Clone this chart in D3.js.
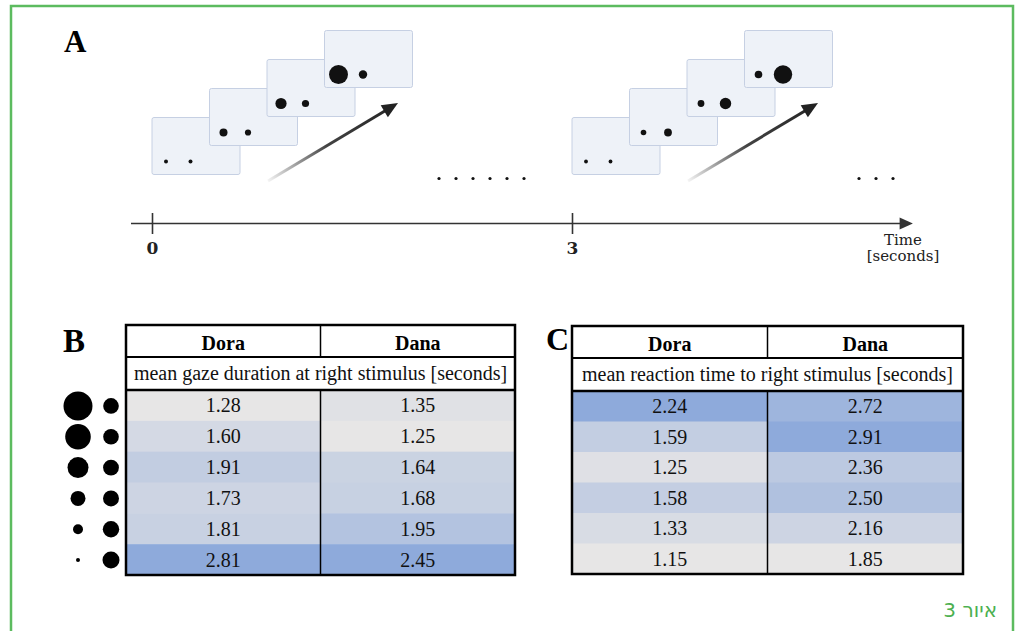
<!DOCTYPE html>
<html>
<head>
<meta charset="utf-8">
<script src="https://cdn.jsdelivr.net/npm/d3@7"></script>
<style>
  body { margin: 0; background: #fff; }
</style>
</head>
<body>
<div id="fig"></div>
<script>
// panel A: two trials laid on a time line
var trialStarts = [0, 3];
var leftRadius = [[2, 4, 5.6, 9.5], [1.9, 2.8, 3.4, 3.8]];
var rightRadius = [[2, 3.1, 3.6, 4.2], [1.9, 3.9, 5.7, 9.2]];
var timeTicks = [0, 3];
var ellipsis = [{ start: 2.05, count: 6 }, { start: 5.05, count: 3 }];

// panels B and C
var subjects = ["Dora", "Dana"];
var gazeDora = [1.28, 1.60, 1.91, 1.73, 1.81, 2.81];
var gazeDana = [1.35, 1.25, 1.64, 1.68, 1.95, 2.45];
var reactDora = [2.24, 1.59, 1.25, 1.58, 1.33, 1.15];
var reactDana = [2.72, 2.91, 2.36, 2.50, 2.16, 1.85];
var leftDot = [14.5, 12.8, 10.5, 7.5, 5, 2];
var rightDot = [7.8, 7.8, 7.9, 8, 8.2, 8.5];

var W = 1018, H = 631;
var serif = "'Liberation Serif', 'Times New Roman', serif";
var slab = "'DejaVu Serif', serif";

var svg = d3.select("#fig").append("svg")
  .attr("width", W)
  .attr("height", H);

// green frame, bottom edge falls outside the picture
svg.append("rect")
  .attr("x", 11).attr("y", 6)
  .attr("width", 1002).attr("height", 700)
  .attr("fill", "none")
  .attr("stroke", "#5cbb5f")
  .attr("stroke-width", 2.5);

// ---------- panel A ----------
var x = d3.scaleLinear().domain([0, 3]).range([152, 572]);
var frameX = d3.scaleLinear().domain([0, 3]).range([0, 172.5]);
var frameY = d3.scaleLinear().domain([0, 3]).range([117.5, 30.5]);
var cardW = 88, cardH = 57;

var defs = svg.append("defs");

trialStarts.forEach(function (t0, k) {
  var g = svg.append("g");
  var x0 = x(t0);
  var cards = g.selectAll("g.card")
    .data(d3.range(4))
    .enter().append("g")
    .attr("transform", function (i) { return "translate(" + (x0 + frameX(i)) + "," + frameY(i) + ")"; });
  cards.append("rect")
    .attr("width", cardW).attr("height", cardH)
    .attr("rx", 2)
    .attr("fill", "#eef2f8")
    .attr("stroke", "#c6d0e3")
    .attr("stroke-width", 1);
  cards.append("circle")
    .attr("cx", 14).attr("cy", 44)
    .attr("r", function (i) { return leftRadius[k][i]; })
    .attr("fill", "#111");
  cards.append("circle")
    .attr("cx", 38.5).attr("cy", 44)
    .attr("r", function (i) { return rightRadius[k][i]; })
    .attr("fill", "#111");

  // arrow with fading tail
  var ax0 = x0 + 116, ay0 = 181, ax1 = x0 + 246, ay1 = 103;
  var dx = ax1 - ax0, dy = ay1 - ay0, len = Math.sqrt(dx * dx + dy * dy);
  var ux = dx / len, uy = dy / len;
  var grad = defs.append("linearGradient")
    .attr("id", "fade" + k)
    .attr("gradientUnits", "userSpaceOnUse")
    .attr("x1", ax0).attr("y1", ay0).attr("x2", ax1).attr("y2", ay1);
  grad.append("stop").attr("offset", 0).attr("stop-color", "#222").attr("stop-opacity", 0.05);
  grad.append("stop").attr("offset", 0.45).attr("stop-color", "#222").attr("stop-opacity", 0.85);
  grad.append("stop").attr("offset", 1).attr("stop-color", "#222").attr("stop-opacity", 1);
  g.append("line")
    .attr("x1", ax0).attr("y1", ay0)
    .attr("x2", ax1 - 12 * ux).attr("y2", ay1 - 12 * uy)
    .attr("stroke", "url(#fade" + k + ")")
    .attr("stroke-width", 3);
  var bx = ax1 - 16 * ux, by = ay1 - 16 * uy;
  g.append("polygon")
    .attr("points", [
      [ax1, ay1],
      [bx - 7 * uy, by + 7 * ux],
      [bx + 7 * uy, by - 7 * ux]
    ].join(" "))
    .attr("fill", "#222");
});

// ellipsis dots
ellipsis.forEach(function (e) {
  svg.selectAll(null)
    .data(d3.range(e.count))
    .enter().append("circle")
    .attr("cx", function (i) { return x(e.start) + i * 17; })
    .attr("cy", 178.5)
    .attr("r", 1.6)
    .attr("fill", "#111");
});

// time axis
svg.append("line")
  .attr("x1", x(-0.15)).attr("y1", 223.5)
  .attr("x2", x(5.36)).attr("y2", 223.5)
  .attr("stroke", "#333").attr("stroke-width", 1.6);
svg.append("polygon")
  .attr("points", [[x(5.435), 223.5], [x(5.34), 217.5], [x(5.34), 229.5]].join(" "))
  .attr("fill", "#333");

var axis = svg.append("g")
  .attr("transform", "translate(0,223.5)")
  .call(d3.axisBottom(x).tickValues(timeTicks).tickFormat(d3.format("d")).tickSize(10));
axis.select(".domain").remove();
axis.selectAll(".tick line")
  .attr("y1", -10.5).attr("y2", 10.5)
  .attr("stroke", "#333").attr("stroke-width", 1.6);
axis.selectAll(".tick text")
  .attr("y", 30).attr("dy", 0)
  .attr("fill", "#222")
  .style("font-family", slab)
  .style("font-weight", "bold")
  .style("font-size", "17px");

svg.append("text")
  .attr("x", 903).attr("y", 245)
  .attr("text-anchor", "middle")
  .style("font-family", slab).style("font-size", "15px")
  .attr("fill", "#222")
  .text("Time");
svg.append("text")
  .attr("x", 903).attr("y", 261)
  .attr("text-anchor", "middle")
  .style("font-family", slab).style("font-size", "15px")
  .attr("fill", "#222")
  .text("[seconds]");

// panel letters
function letter(t, lx, ly, size) {
  svg.append("text")
    .attr("x", lx).attr("y", ly)
    .style("font-family", serif)
    .style("font-weight", "bold")
    .style("font-size", size + "px")
    .attr("fill", "#000")
    .text(t);
}
letter("A", 64, 52, 31);
letter("B", 63, 352, 33);
letter("C", 546, 350, 32);

// ---------- tables ----------
function table(left, right, top, bottom, cols, subtitle) {
  var hdr = top + 32, sub = hdr + 33;
  var cx = d3.scaleBand().domain(subjects).range([left, right]);
  var ry = d3.scaleBand().domain(d3.range(6)).range([sub, bottom]);
  var g = svg.append("g");

  cols.forEach(function (vals, j) {
    var colour = d3.scaleLinear()
      .domain(d3.extent(vals))
      .range(["#e7e6e6", "#8eaadb"]);
    var c = cx(subjects[j]);
    g.selectAll(null).data(vals).enter().append("rect")
      .attr("x", c)
      .attr("y", function (d, i) { return ry(i); })
      .attr("width", cx.bandwidth())
      .attr("height", ry.bandwidth() + 0.5)
      .attr("fill", colour);
    g.selectAll(null).data(vals).enter().append("text")
      .attr("x", c + cx.bandwidth() / 2)
      .attr("y", function (d, i) { return ry(i) + ry.bandwidth() / 2 + 7; })
      .attr("text-anchor", "middle")
      .style("font-family", serif).style("font-size", "20px")
      .attr("fill", "#111")
      .text(d3.format(".2f"));
    g.append("text")
      .attr("x", c + cx.bandwidth() / 2)
      .attr("y", top + 25)
      .attr("text-anchor", "middle")
      .style("font-family", serif).style("font-size", "20px")
      .style("font-weight", "bold")
      .attr("fill", "#000")
      .text(subjects[j]);
  });

  g.append("text")
    .attr("x", (left + right) / 2)
    .attr("y", hdr + 23)
    .attr("text-anchor", "middle")
    .style("font-family", serif).style("font-size", "20px")
    .attr("fill", "#111")
    .text(subtitle);

  // rules
  var mid = cx("Dana");
  g.append("line").attr("x1", mid).attr("x2", mid).attr("y1", top).attr("y2", hdr)
    .attr("stroke", "#000").attr("stroke-width", 1.5);
  g.append("line").attr("x1", mid).attr("x2", mid).attr("y1", sub).attr("y2", bottom)
    .attr("stroke", "#000").attr("stroke-width", 1.5);
  g.append("line").attr("x1", left).attr("x2", right).attr("y1", hdr).attr("y2", hdr)
    .attr("stroke", "#000").attr("stroke-width", 2);
  g.append("line").attr("x1", left).attr("x2", right).attr("y1", sub).attr("y2", sub)
    .attr("stroke", "#000").attr("stroke-width", 2.5);
  g.append("rect")
    .attr("x", left).attr("y", top)
    .attr("width", right - left).attr("height", bottom - top)
    .attr("fill", "none")
    .attr("stroke", "#000").attr("stroke-width", 2.5);
  return ry;
}

var rowsB = table(126, 515, 325, 575, [gazeDora, gazeDana],
  "mean gaze duration at right stimulus [seconds]");
table(572, 963, 326, 574, [reactDora, reactDana],
  "mean reaction time to right stimulus [seconds]");

// stimulus size legend next to table B
svg.selectAll(null).data(leftDot).enter().append("circle")
  .attr("cx", 78)
  .attr("cy", function (d, i) { return rowsB(i) + rowsB.bandwidth() / 2 + 0.5; })
  .attr("r", function (d) { return d; })
  .attr("fill", "#000");
svg.selectAll(null).data(rightDot).enter().append("circle")
  .attr("cx", 111)
  .attr("cy", function (d, i) { return rowsB(i) + rowsB.bandwidth() / 2 + 0.5; })
  .attr("r", function (d) { return d; })
  .attr("fill", "#000");

// figure caption
svg.append("text")
  .attr("x", 997).attr("y", 617)
  .attr("direction", "rtl")
  .attr("text-anchor", "start")
  .style("font-family", "'DejaVu Sans', sans-serif")
  .style("font-size", "20px")
  .attr("fill", "#4cb050")
  .text("איור 3");
</script>
</body>
</html>
